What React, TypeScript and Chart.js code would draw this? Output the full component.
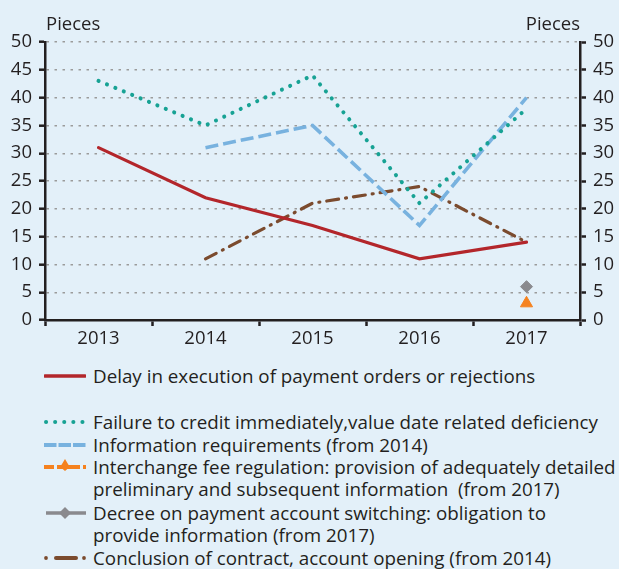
import React, { useEffect, useRef } from 'react';
import { Chart, registerables } from 'chart.js';

Chart.register(...registerables);

const categories = ['2013', '2014', '2015', '2016', '2017'];
const delaySeries = [31, 22, 17, 11, 14];
const failureSeries = [43, 35, 44, 21, 38];
const infoSeries = [null, 31, 35, 17, 40];
const interchangeSeries = [null, null, null, null, 3];
const decreeSeries = [null, null, null, null, 6];
const conclusionSeries = [null, 11, 21, 24, 14];
const yMin = 0;
const yMax = 50;
const yStep = 5;
const unitLabel = 'Pieces';

const labels = {
  delay: 'Delay in execution of payment orders or rejections',
  failure: 'Failure to credit immediately,value date related deficiency',
  info: 'Information requirements (from 2014)',
  interchange: [
    'Interchange fee regulation: provision of adequately detailed',
    'preliminary and subsequent information  (from 2017)',
  ],
  decree: [
    'Decree on payment account switching: obligation to',
    'provide information (from 2017)',
  ],
  conclusion: 'Conclusion of contract, account opening (from 2014)',
};

const C = {
  bg: '#e3f0f9',
  text: '#231f20',
  axis: '#231f20',
  grid: '#9b9b9b',
  red: '#b3262b',
  teal: '#17a294',
  blue: '#78b2df',
  orange: '#f5821f',
  gray: '#8a8a8e',
  brown: '#7b4b2e',
};

const FONT = '"Open Sans", "Noto Sans", sans-serif';

function Swatch({ kind }: { kind: string }) {
  const w = 42;
  const h = 20;
  const y = 10;
  let content: React.ReactNode = null;
  if (kind === 'delay') {
    content = <line x1={1} y1={y} x2={41} y2={y} stroke={C.red} strokeWidth={3.5} strokeLinecap="round" />;
  } else if (kind === 'failure') {
    content = (
      <line x1={2} y1={y} x2={41} y2={y} stroke={C.teal} strokeWidth={4} strokeLinecap="round" strokeDasharray="0.1 9" />
    );
  } else if (kind === 'info') {
    content = (
      <line x1={0} y1={y} x2={42} y2={y} stroke={C.blue} strokeWidth={4} strokeDasharray="12.5 2" />
    );
  } else if (kind === 'interchange') {
    content = (
      <g>
        <line x1={0} y1={y} x2={42} y2={y} stroke={C.orange} strokeWidth={4} strokeDasharray="10 3" />
        <polygon points="21,2 27,12 15,12" fill={C.orange} />
        <polygon points="14,8 28,8 21,14" fill={C.orange} />
      </g>
    );
  } else if (kind === 'decree') {
    content = (
      <g>
        <line x1={2} y1={y} x2={42} y2={y} stroke={C.gray} strokeWidth={3.5} />
        <polygon points="21,4 27,10 21,16 15,10" fill={C.gray} />
      </g>
    );
  } else if (kind === 'conclusion') {
    content = (
      <g>
        <circle cx={2} cy={y} r={1.9} fill={C.brown} />
        <line x1={12} y1={y} x2={32} y2={y} stroke={C.brown} strokeWidth={4} strokeLinecap="round" />
        <circle cx={40} cy={y} r={1.9} fill={C.brown} />
      </g>
    );
  }
  return (
    <svg width={w} height={h} style={{ position: 'absolute', left: 44, top: -10 }}>
      {content}
    </svg>
  );
}

function LegendItem({ kind, text, centerY }: { kind: string; text: string | string[]; centerY: number }) {
  const lines = Array.isArray(text) ? text : [text];
  const lh = 22.5;
  return (
    <div style={{ position: 'absolute', left: 0, top: centerY, width: 619 }}>
      <Swatch kind={kind} />
      <div
        style={{
          position: 'absolute',
          left: 93,
          top: -lh / 2,
          font: `18.8px ${FONT}`,
          lineHeight: `${lh}px`,
          color: C.text,
          whiteSpace: 'pre',
        }}
      >
        {lines.map((l, i) => (
          <div key={i}>{l}</div>
        ))}
      </div>
    </div>
  );
}

export default function App() {
  const canvasRef = useRef<HTMLCanvasElement | null>(null);

  useEffect(() => {
    const canvas = canvasRef.current;
    if (!canvas) return;

    const titlePlugin = {
      id: 'piecesTitles',
      afterDraw(chart: any) {
        const ctx = chart.ctx;
        ctx.save();
        ctx.font = `18.5px ${FONT}`;
        ctx.fillStyle = C.text;
        ctx.textBaseline = 'middle';
        ctx.textAlign = 'left';
        ctx.fillText(unitLabel, 46, 25);
        ctx.textAlign = 'right';
        ctx.fillText(unitLabel, 580, 25);
        ctx.restore();
      },
    };

    const lineBase = {
      pointRadius: 0,
      pointHoverRadius: 0,
      fill: false,
      tension: 0,
      spanGaps: false,
    };

    const tickFont = { family: FONT, size: 18.5 };

    const chart = new Chart(canvas, {
      type: 'line',
      data: {
        labels: categories,
        datasets: [
          {
            ...lineBase,
            label: labels.delay,
            data: delaySeries,
            borderColor: C.red,
            backgroundColor: C.red,
            borderWidth: 3.2,
            borderCapStyle: 'round',
          },
          {
            ...lineBase,
            label: labels.failure,
            data: failureSeries,
            borderColor: C.teal,
            backgroundColor: C.teal,
            borderWidth: 4,
            borderDash: [0.1, 9],
            borderCapStyle: 'round',
          },
          {
            ...lineBase,
            label: labels.info,
            data: infoSeries,
            borderColor: C.blue,
            backgroundColor: C.blue,
            borderWidth: 3.6,
            borderDash: [13, 5],
          },
          {
            ...lineBase,
            label: labels.interchange.join(' '),
            data: interchangeSeries,
            borderColor: C.orange,
            backgroundColor: C.orange,
            pointStyle: 'triangle',
            pointRadius: 7,
            pointBorderWidth: 1,
            showLine: false,
          },
          {
            ...lineBase,
            label: labels.decree.join(' '),
            data: decreeSeries,
            borderColor: C.gray,
            backgroundColor: C.gray,
            pointStyle: 'rectRot',
            pointRadius: 6,
            pointBorderWidth: 1,
            showLine: false,
          },
          {
            ...lineBase,
            label: labels.conclusion,
            data: conclusionSeries,
            borderColor: C.brown,
            backgroundColor: C.brown,
            borderWidth: 3.2,
            borderDash: [12, 7, 1, 7],
            borderCapStyle: 'round',
          },
        ],
      },
      options: {
        responsive: false,
        animation: false,
        events: [],
        layout: { padding: { top: 42, left: 0, right: 0, bottom: 0 } },
        plugins: {
          legend: { display: false },
          tooltip: { enabled: false },
          title: { display: false },
        },
        scales: {
          x: {
            type: 'category',
            offset: true,
            grid: {
              offset: true,
              drawOnChartArea: false,
              drawTicks: true,
              tickLength: 6,
              tickColor: C.axis,
              tickWidth: 2.5,
            },
            border: { display: true, color: C.axis, width: 2.5 },
            ticks: {
              color: C.text,
              font: tickFont,
              padding: 2,
              maxRotation: 0,
            },
            afterFit(scale: any) {
              scale.height = 30;
            },
          },
          y: {
            type: 'linear',
            position: 'left',
            min: yMin,
            max: yMax,
            ticks: {
              stepSize: yStep,
              color: C.text,
              font: tickFont,
              padding: 7,
            },
            grid: {
              color: C.grid,
              lineWidth: 1.4,
              drawOnChartArea: true,
              drawTicks: true,
              tickLength: 6,
              tickColor: C.axis,
              tickWidth: 2.5,
            },
            border: { display: true, color: C.axis, width: 2.5, dash: [2.5, 5.5] },
            afterFit(scale: any) {
              scale.width = 45;
            },
          },
          y2: {
            type: 'linear',
            position: 'right',
            min: yMin,
            max: yMax,
            ticks: {
              stepSize: yStep,
              color: C.text,
              font: tickFont,
              padding: 7,
            },
            grid: {
              drawOnChartArea: false,
              drawTicks: true,
              tickLength: 6,
              tickColor: C.axis,
              tickWidth: 2.5,
            },
            border: { display: true, color: C.axis, width: 2.5 },
            afterFit(scale: any) {
              scale.width = 39;
            },
          },
        },
      },
      plugins: [titlePlugin],
    } as any);

    return () => {
      chart.destroy();
    };
  }, []);

  return (
    <div
      style={{
        position: 'fixed',
        left: 0,
        top: 0,
        width: 619,
        height: 569,
        background: C.bg,
        overflow: 'hidden',
      }}
    >
      <canvas ref={canvasRef} width={619} height={350} style={{ display: 'block', width: 619, height: 350 }} />
      <LegendItem kind="delay" text={labels.delay} centerY={376} />
      <LegendItem kind="failure" text={labels.failure} centerY={422} />
      <LegendItem kind="info" text={labels.info} centerY={445} />
      <LegendItem kind="interchange" text={labels.interchange} centerY={467} />
      <LegendItem kind="decree" text={labels.decree} centerY={513} />
      <LegendItem kind="conclusion" text={labels.conclusion} centerY={558} />
    </div>
  );
}
